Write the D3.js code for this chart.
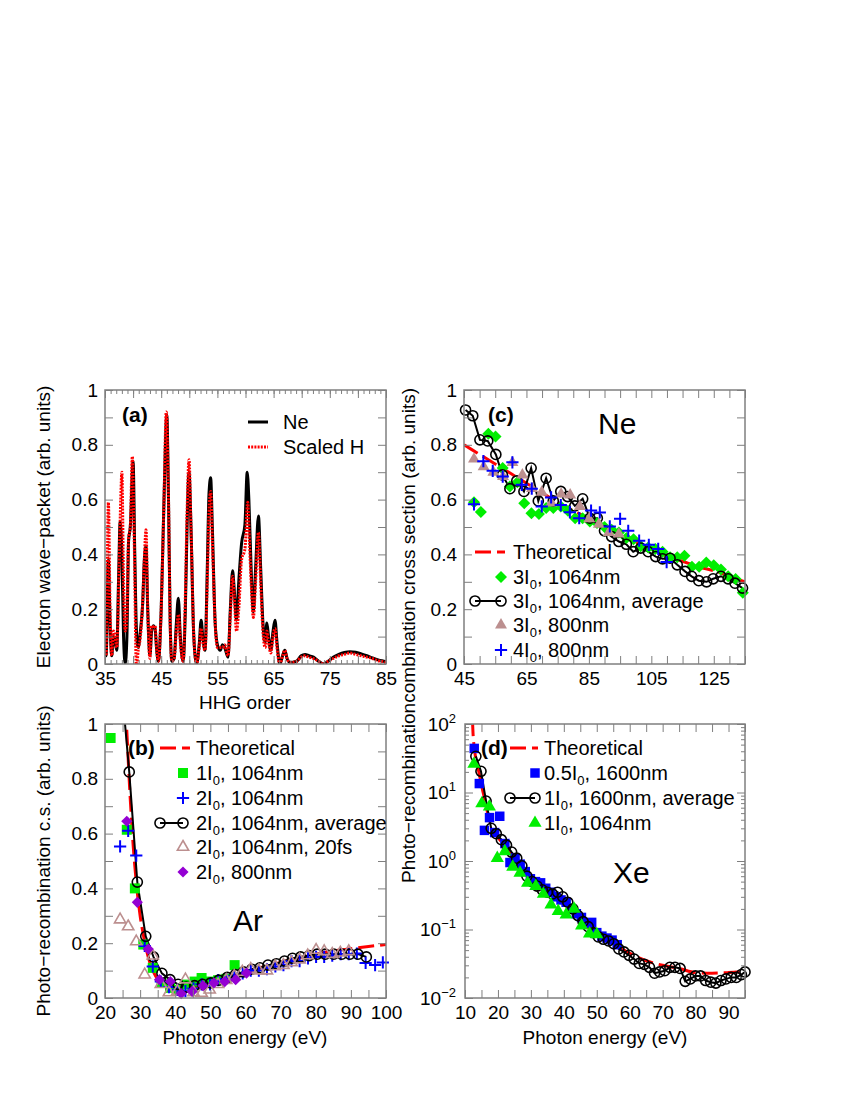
<!DOCTYPE html>
<html>
<head>
<meta charset="utf-8">
<script src="https://cdn.jsdelivr.net/npm/d3@7"></script>
<style>
  body { margin: 0; background: #fff; }
  text { font-family: 'Liberation Sans', Arial, Helvetica, sans-serif; }
</style>
</head>
<body>
<div id="chart"></div>
<script>
// ---------- data ----------
// (a) electron wave-packet vs HHG order
const neWave = [[35.0,0.10],[35.2,0.03],[35.6,0.38],[35.9,0.15],[36.2,0.03],[36.5,0.10],[36.8,0.08],[37.1,0.05],[37.4,0.30],[37.7,0.52],[38.0,0.40],[38.3,0.10],[38.6,0.0],[38.9,0.10],[39.2,0.45],[39.5,0.50],[40.0,0.74],[40.3,0.40],[40.6,0.12],[40.9,0.06],[41.3,0.12],[41.7,0.22],[42.0,0.38],[42.3,0.43],[42.6,0.20],[43.0,0.03],[43.3,0.12],[43.6,0.14],[43.9,0.13],[44.2,0.05],[44.5,0.01],[45.0,0.20],[45.5,0.60],[46.0,0.91],[46.3,0.60],[46.6,0.15],[46.9,0.01],[47.3,0.02],[47.7,0.15],[48.05,0.24],[48.4,0.10],[48.9,0.01],[49.3,0.20],[49.6,0.50],[49.95,0.70],[50.3,0.50],[50.8,0.10],[51.3,0.0],[51.8,0.08],[52.1,0.16],[52.4,0.10],[52.8,0.05],[53.2,0.35],[53.5,0.62],[53.8,0.68],[54.1,0.50],[54.6,0.15],[55.0,0.07],[55.5,0.05],[55.9,0.07],[56.3,0.06],[56.9,0.025],[57.3,0.20],[57.7,0.34],[58.0,0.27],[58.4,0.16],[58.8,0.30],[59.3,0.44],[59.9,0.51],[60.3,0.70],[60.6,0.60],[61.0,0.35],[61.4,0.19],[61.8,0.35],[62.3,0.54],[62.7,0.35],[63.1,0.15],[63.5,0.08],[63.8,0.15],[64.1,0.10],[64.5,0.05],[64.9,0.12],[65.25,0.16],[65.6,0.08],[66.1,0.0],[66.6,0.03],[67.0,0.05],[67.4,0.02],[67.9,0.005],[69.1,0.01],[69.9,0.03],[70.6,0.035],[71.3,0.03],[72.1,0.025],[73.0,0.01],[73.9,0.0],[74.7,0.01],[75.6,0.025],[76.6,0.035],[77.6,0.042],[78.6,0.045],[79.6,0.043],[80.6,0.037],[81.6,0.03],[82.6,0.022],[83.6,0.015],[84.6,0.01],[85.0,0.008]];
const scaledH = [[35.0,0.05],[35.2,0.03],[35.6,0.59],[35.9,0.20],[36.2,0.03],[36.5,0.12],[36.8,0.10],[37.1,0.06],[37.5,0.35],[37.8,0.60],[38.0,0.70],[38.3,0.30],[38.6,0.12],[38.9,0.18],[39.2,0.46],[39.5,0.50],[39.86,0.757],[40.2,0.45],[40.6,-0.02],[40.9,0.05],[41.3,0.10],[41.7,0.22],[42.0,0.38],[42.3,0.49],[42.6,0.20],[43.0,0.02],[43.3,0.14],[43.6,0.13],[43.9,0.14],[44.2,0.05],[44.5,0.01],[45.0,0.20],[45.5,0.60],[45.9,0.92],[46.3,0.60],[46.6,0.15],[46.9,0.01],[47.3,0.02],[47.7,0.12],[48.1,0.18],[48.4,0.08],[48.9,0.01],[49.3,0.25],[49.6,0.55],[49.95,0.745],[50.3,0.50],[50.8,0.10],[51.3,0.0],[51.8,0.07],[52.1,0.13],[52.4,0.08],[52.8,0.05],[53.2,0.30],[53.5,0.55],[53.8,0.63],[54.1,0.45],[54.6,0.15],[55.0,0.06],[55.5,0.06],[55.9,0.06],[56.3,0.07],[56.9,0.03],[57.3,0.18],[57.7,0.32],[58.0,0.25],[58.4,0.12],[58.8,0.20],[59.3,0.38],[59.9,0.42],[60.4,0.59],[60.7,0.45],[61.0,0.30],[61.4,0.17],[61.8,0.30],[62.3,0.48],[62.7,0.30],[63.1,0.12],[63.5,0.06],[63.8,0.12],[64.1,0.08],[64.5,0.04],[64.9,0.10],[65.25,0.13],[65.6,0.06],[66.1,0.0],[66.6,0.03],[67.0,0.05],[67.4,0.02],[67.9,0.005],[69.1,0.01],[69.9,0.025],[70.6,0.03],[71.3,0.025],[72.1,0.02],[73.0,0.01],[73.9,0.0],[74.7,0.01],[75.6,0.02],[76.6,0.03],[77.6,0.035],[78.6,0.04],[79.6,0.035],[80.6,0.03],[81.6,0.025],[82.6,0.02],[83.6,0.012],[84.6,0.008],[85.0,0.005]];

// (c) Ne photo-recombination cross section
const neTheory = [[45,0.80],[50,0.765],[55,0.73],[60,0.695],[65,0.66],[70,0.625],[75,0.59],[80,0.56],[85,0.53],[90,0.50],[95,0.47],[100,0.445],[105,0.42],[110,0.395],[115,0.375],[120,0.355],[125,0.34],[130,0.32],[135,0.30]];
const ne3I1064 = [[48.2,0.59],[50.4,0.555],[52.8,0.84],[55.1,0.83],[57.4,0.715],[59.7,0.648],[62.1,0.663],[64.3,0.587],[66.6,0.55],[69.0,0.547],[71.3,0.569],[73.6,0.569],[76.0,0.575],[78.3,0.559],[80.6,0.532],[83.0,0.532],[85.3,0.52],[87.6,0.515],[90.0,0.50],[92.3,0.49],[94.6,0.48],[97.0,0.46],[99.3,0.455],[101.6,0.43],[104.0,0.425],[106.3,0.42],[108.6,0.41],[111.0,0.39],[113.3,0.39],[115.6,0.395],[118.0,0.355],[120.3,0.355],[122.6,0.37],[125.0,0.36],[127.3,0.345],[129.6,0.32],[132.0,0.31],[134.3,0.26]];
const ne3I1064avg = [[45.5,0.927],[47.8,0.906],[50.1,0.818],[52.6,0.814],[55.2,0.765],[57.3,0.69],[59.7,0.64],[61.9,0.668],[64.2,0.63],[66.5,0.715],[68.8,0.595],[71.3,0.678],[73.6,0.595],[76.0,0.63],[78.2,0.611],[80.5,0.577],[83.0,0.603],[85.3,0.532],[87.7,0.532],[90.0,0.486],[92.3,0.465],[94.6,0.447],[97.0,0.437],[99.2,0.41],[101.6,0.423],[104.0,0.41],[106.4,0.392],[108.6,0.384],[111.0,0.386],[113.3,0.362],[115.8,0.338],[117.9,0.32],[120.2,0.304],[122.7,0.30],[124.8,0.311],[127.3,0.32],[129.6,0.311],[131.8,0.295],[134.2,0.277]];
const ne3I800 = [[48.2,0.748],[51.3,0.72],[54.4,0.70],[57.5,0.684],[60.5,0.735],[63.7,0.69],[66.8,0.64],[69.9,0.627],[73.0,0.587],[76.1,0.62],[79.0,0.617],[82.1,0.575],[85.1,0.53],[88.2,0.51],[91.4,0.48],[94.6,0.474]];
const ne4I800 = [[48.2,0.583],[51.2,0.74],[54.2,0.705],[57.4,0.684],[60.5,0.736],[63.5,0.654],[66.7,0.64],[69.9,0.575],[72.9,0.608],[76.0,0.58],[78.9,0.554],[81.9,0.532],[85.7,0.56],[88.5,0.553],[91.7,0.502],[95.0,0.53],[97.6,0.486],[101.1,0.45],[104.2,0.435],[107.2,0.42],[109.9,0.372]];

// (b) Ar
const arTheory = [[25.6,1.3],[26.0,1.05],[26.5,0.9],[27.0,0.77],[27.5,0.66],[28.0,0.56],[28.5,0.48],[29.0,0.41],[29.5,0.35],[30.0,0.30],[31.0,0.225],[32.0,0.165],[33.0,0.12],[34.0,0.09],[35.0,0.068],[36.0,0.053],[38.0,0.038],[40.0,0.032],[42.0,0.031],[44.0,0.034],[46.0,0.04],[48.0,0.047],[50.0,0.055],[55.0,0.075],[60.0,0.094],[65.0,0.113],[70.0,0.13],[75.0,0.145],[80.0,0.16],[85.0,0.172],[90.0,0.18],[95.0,0.188],[100.0,0.195]];
const ar1I1064 = [[21.6,0.949],[26.2,0.614],[28.5,0.40],[30.9,0.195],[33.6,0.11],[36.1,0.055],[38.5,0.037],[40.9,0.03],[43.1,0.049],[45.5,0.06],[47.5,0.073],[49.9,0.06],[52.2,0.065],[54.5,0.07],[56.9,0.12]];
const ar2I1064 = [[24.3,0.553],[26.6,0.61],[28.9,0.52],[31.3,0.19],[33.6,0.115],[35.9,0.06],[38.2,0.04],[40.6,0.03],[42.9,0.025],[45.2,0.035],[47.5,0.05],[49.9,0.05],[52.2,0.065],[54.5,0.07],[56.8,0.08],[59.2,0.09],[61.5,0.10],[63.8,0.10],[66.1,0.105],[68.5,0.115],[70.8,0.12],[73.1,0.135],[75.4,0.135],[77.8,0.145],[80.1,0.15],[82.4,0.15],[84.7,0.155],[87.1,0.16],[89.4,0.16],[91.7,0.162],[94.2,0.128],[96.9,0.12],[99.1,0.13]];
const ar2I1064avg = [[24.6,1.16],[26.9,0.825],[29.2,0.423],[31.6,0.225],[33.8,0.15],[36.2,0.09],[38.5,0.067],[40.8,0.05],[43.1,0.04],[45.5,0.045],[47.8,0.05],[50.1,0.055],[52.4,0.065],[54.8,0.075],[57.1,0.085],[59.4,0.095],[61.8,0.105],[64.1,0.11],[66.4,0.12],[68.8,0.125],[71.1,0.135],[73.4,0.145],[75.7,0.15],[78.1,0.155],[80.4,0.16],[82.7,0.16],[85.1,0.16],[87.4,0.16],[89.7,0.16],[92.0,0.16],[94.4,0.15]];
const ar2I1064fs20 = [[24.3,0.286],[26.6,0.261],[28.9,0.206],[31.3,0.085],[33.6,0.154],[35.9,0.05],[38.2,0.02],[40.6,0.025],[42.9,0.067],[45.2,0.02],[47.5,0.018],[49.8,0.03],[52.2,0.05],[54.5,0.065],[56.8,0.08],[59.1,0.095],[61.5,0.105],[63.8,0.10],[66.1,0.10],[68.4,0.115],[70.8,0.12],[73.1,0.13],[75.4,0.14],[77.7,0.155],[80.1,0.175],[82.4,0.17],[84.7,0.16],[87.0,0.165],[89.4,0.17]];
const ar2I800 = [[26.2,0.645],[29.2,0.349],[32.3,0.179],[35.5,0.067],[38.6,0.06],[41.7,0.016],[44.8,0.024],[47.9,0.045],[51.0,0.055],[54.1,0.06],[57.2,0.067],[60.3,0.091]];

// (d) Xe (log scale)
const xeTheory = [[12.0,500],[12.2,150],[12.4,80],[12.7,50],[13.0,38],[13.5,28],[14.0,22],[14.5,17],[15.0,13],[15.5,10],[16.0,8],[16.5,6],[17.0,4.8],[17.5,3.8],[18.0,3.1],[19.0,2.5],[20.0,2.2],[22.0,1.65],[24.0,1.25],[26.0,0.95],[28.0,0.68],[30.0,0.53],[32.0,0.44],[34.0,0.37],[36.0,0.32],[38.0,0.28],[40.0,0.24],[42.0,0.195],[44.0,0.155],[46.0,0.125],[48.0,0.10],[50.0,0.085],[55.0,0.062],[60.0,0.045],[65.0,0.035],[70.0,0.03],[75.0,0.027],[80.0,0.0235],[85.0,0.023],[90.0,0.0235],[95.0,0.0245]];
const xe05I1600 = [[12.8,44],[14.35,13.5],[15.9,2.8],[17.45,4.3],[19.0,2.6],[20.55,4.5],[22.1,1.8],[23.65,0.95],[25.2,1.1],[26.75,0.9],[28.3,0.7],[29.85,0.55],[31.4,0.5],[32.95,0.48],[34.5,0.4],[36.05,0.35],[37.6,0.3],[39.15,0.27],[40.7,0.25],[42.25,0.2],[43.8,0.17],[45.35,0.15],[46.9,0.124],[48.45,0.127],[50.0,0.09],[51.55,0.08],[53.1,0.075],[54.65,0.07],[56.2,0.06]];
const xe1I1600avg = [[13.3,33.7],[14.85,20.4],[16.4,7.5],[17.95,3.0],[19.5,2.5],[21.05,2.05],[22.6,1.7],[24.15,1.35],[25.7,1.1],[27.25,0.85],[28.8,0.6],[30.35,0.5],[31.9,0.43],[33.45,0.38],[35.0,0.35],[36.55,0.33],[38.1,0.35],[39.65,0.3],[41.2,0.25],[42.75,0.2],[44.3,0.16],[45.85,0.13],[47.4,0.11],[48.95,0.09],[50.5,0.078],[52.05,0.072],[53.6,0.068],[55.15,0.062],[56.7,0.052],[58.25,0.047],[59.8,0.042],[61.35,0.037],[62.9,0.032],[64.45,0.031],[66.0,0.028],[67.55,0.023],[69.1,0.024],[70.65,0.025],[72.2,0.028],[73.75,0.028],[75.3,0.027],[76.85,0.0175],[78.4,0.019],[79.95,0.021],[81.5,0.021],[83.05,0.018],[84.6,0.017],[86.15,0.0165],[87.7,0.018],[89.25,0.019],[90.8,0.02],[92.35,0.02],[93.9,0.022],[95.0,0.024]];
const xe1I1064 = [[12.7,26],[15.1,6.9],[17.4,6.2],[19.8,1.1],[22.1,1.38],[24.5,0.82],[26.7,0.67],[29.0,0.48],[31.5,0.43],[33.8,0.33],[36.1,0.23],[38.3,0.185],[40.7,0.165],[43.1,0.2],[45.4,0.114],[47.8,0.087],[50.0,0.085]];

// tick labels
const ticksA = [35, 45, 55, 65, 75, 85];
const ticksB = [20, 30, 40, 50, 60, 70, 80, 90, 100];
const ticksC = [45, 65, 85, 105, 125];
const ticksD = [10, 20, 30, 40, 50, 60, 70, 80, 90];
const ticksLin = [0, 0.2, 0.4, 0.6, 0.8, 1];
const ticksLog = [0.01, 0.1, 1, 10, 100];

// ---------- drawing ----------
const width = 850, height = 1100;
const svg = d3.select("#chart").append("svg")
  .attr("width", width).attr("height", height);
svg.append("rect").attr("width", width).attr("height", height).attr("fill", "#fff");

const gray = "#7f7f7f";
const RED = "#ff0000", GREEN = "#00ee00", BLUE = "#0000ff", PURPLE = "#9400d3", BROWN = "#bc8f8f";

const boxes = {
  a: { x0: 105, y0: 390, w: 281, h: 274 },
  c: { x0: 464, y0: 390, w: 281, h: 274 },
  b: { x0: 105, y0: 724, w: 281, h: 274 },
  d: { x0: 465, y0: 724, w: 280, h: 274 }
};

function makePanel(key, xDomain, y) {
  const p = boxes[key];
  const g = svg.append("g").attr("transform", `translate(${p.x0},${p.y0})`);
  const x = d3.scaleLinear().domain(xDomain).range([0, p.w]);
  y.range([p.h, 0]);
  g.append("clipPath").attr("id", "clip-" + key)
    .append("rect").attr("width", p.w).attr("height", p.h);
  const plot = g.append("g").attr("clip-path", `url(#clip-${key})`);
  return { g, plot, x, y, w: p.w, h: p.h };
}

function axis(P, axisFn, transform, scale, vals, len, labels, fmt, pad) {
  const a = P.g.append("g").attr("transform", transform)
    .call(axisFn(scale).tickValues(vals).tickSize(-len).tickSizeOuter(0).tickPadding(pad)
      .tickFormat(d => labels && labels.includes(d) ? fmt(d) : ""));
  a.select(".domain").remove();
  a.selectAll("line").attr("stroke", gray).attr("stroke-width", 1);
  a.selectAll("text").attr("font-size", 19).attr("fill", "#000");
  return a;
}

function frame(P) {
  P.g.append("rect").attr("width", P.w).attr("height", P.h)
    .attr("fill", "none").attr("stroke", gray).attr("stroke-width", 1.5);
}

const linFmt = d => d === 0 ? "0" : d === 1 ? "1" : d.toFixed(1);
const tenths = [0, 0.1, 0.2, 0.3, 0.4, 0.5, 0.6, 0.7, 0.8, 0.9, 1];

function linearYAxes(P) {
  axis(P, d3.axisLeft, "translate(0,0)", P.y, tenths, 8, ticksLin, linFmt, 7);
  axis(P, d3.axisRight, `translate(${P.w},0)`, P.y, tenths, 8, null, linFmt, 7);
}
function xAxes(P, vals, len, labels) {
  axis(P, d3.axisBottom, `translate(0,${P.h})`, P.x, vals, len, labels, d => d, 8);
  axis(P, d3.axisTop, "translate(0,0)", P.x, vals, len, null, d => d, 8);
}

function drawLine(P, data, color, widthPx, dash, curve) {
  P.plot.append("path").datum(data)
    .attr("d", d3.line().x(d => P.x(d[0])).y(d => P.y(d[1])).curve(curve || d3.curveLinear))
    .attr("fill", "none").attr("stroke", color).attr("stroke-width", widthPx)
    .attr("stroke-dasharray", dash || null);
}

const plusType = {
  draw(ctx, size) {
    const r = Math.sqrt(size) / 2;
    ctx.moveTo(-r, 0); ctx.lineTo(r, 0);
    ctx.moveTo(0, -r); ctx.lineTo(0, r);
  }
};
const markers = {
  square: { d: d3.symbol(d3.symbolSquare, 100)(), rot: 0 },
  squareD: { d: d3.symbol(d3.symbolSquare, 90)(), rot: 0 },
  diamond: { d: d3.symbol(d3.symbolSquare, 72)(), rot: 45 },
  diamondS: { d: d3.symbol(d3.symbolSquare, 62)(), rot: 45 },
  plus: { d: d3.symbol(plusType, 150)(), rot: 0 },
  circle: { d: d3.symbol(d3.symbolCircle, 80)(), rot: 0 },
  tri: { d: d3.symbol(d3.symbolTriangle, 62)(), rot: 0 },
  triS: { d: d3.symbol(d3.symbolTriangle, 55)(), rot: 0 },
  triL: { d: d3.symbol(d3.symbolTriangle, 75)(), rot: 0 }
};

function styleMarker(sel, m, color, filled) {
  sel.attr("d", markers[m].d)
    .attr("fill", filled ? color : "none")
    .attr("stroke", filled ? "none" : color)
    .attr("stroke-width", m === "plus" ? 2 : 1.6);
}

function drawMarkers(P, data, m, color, filled) {
  const [xa, xb] = P.x.domain(), [ya, yb] = P.y.domain();
  const inside = data.filter(d => d[0] >= xa && d[0] <= xb && d[1] >= ya && d[1] <= yb);
  P.g.append("g").selectAll("path").data(inside).join("path")
    .attr("transform", d => `translate(${P.x(d[0])},${P.y(d[1])}) rotate(${markers[m].rot})`)
    .call(styleMarker, m, color, filled);
}

function label(text, x, y, size, opts) {
  opts = opts || {};
  const t = (opts.parent || svg).append("text").attr("x", x).attr("y", y).attr("font-size", size)
    .attr("fill", "#000").attr("font-weight", opts.bold ? "bold" : null)
    .attr("text-anchor", opts.anchor || "start");
  if (opts.rotate) t.attr("transform", `rotate(-90,${x},${y})`);
  const parts = text.split("_0");
  t.append("tspan").text(parts[0]);
  if (parts.length > 1) {
    t.append("tspan").attr("dy", 5).attr("font-size", size * 0.65).text("0");
    t.append("tspan").attr("dy", -5).text(parts[1]);
  }
  return t;
}

// legend: entries {text, kind: 'line'|'marker'|'linepoints', ...}
function legend(entries, rowY, lineX0, lineX1, markerX, textX) {
  entries.forEach((e, i) => {
    const cy = rowY[i];
    if (e.kind === "line") {
      svg.append("line").attr("x1", lineX0).attr("x2", lineX1).attr("y1", cy).attr("y2", cy)
        .attr("stroke", e.color).attr("stroke-width", e.width || 3)
        .attr("stroke-dasharray", e.dash || null);
    } else if (e.kind === "linepoints") {
      svg.append("line").attr("x1", lineX0).attr("x2", markerX).attr("y1", cy).attr("y2", cy)
        .attr("stroke", "#000").attr("stroke-width", 2);
      [lineX0, markerX].forEach(mx => svg.append("path")
        .attr("transform", `translate(${mx},${cy})`).call(styleMarker, "circle", "#000", false));
    } else {
      svg.append("path").attr("transform", `translate(${markerX},${cy}) rotate(${markers[e.m].rot})`)
        .call(styleMarker, e.m, e.color, e.filled);
    }
    label(e.text, textX, cy + 7, 20);
  });
}

// ----- panel (a) -----
const A = makePanel("a", [35, 85], d3.scaleLinear().domain([0, 1]));
drawLine(A, neWave, "#000", 3, null, d3.curveMonotoneX);
drawLine(A, scaledH, RED, 3, "2,1.2", d3.curveMonotoneX);
axis(A, d3.axisBottom, `translate(0,${A.h})`, A.x, d3.range(35, 86), 4, null, d => d, 8);
axis(A, d3.axisTop, "translate(0,0)", A.x, d3.range(35, 86), 4, null, d => d, 8);
xAxes(A, d3.range(35, 86, 5), 8, ticksA);
linearYAxes(A);
frame(A);

// ----- panel (c) -----
const C = makePanel("c", [45, 135], d3.scaleLinear().domain([0, 1]));
drawLine(C, neTheory, RED, 3, "16,6", d3.curveMonotoneX);
drawMarkers(C, ne3I1064, "diamond", GREEN, true);
drawLine(C, ne3I1064avg, "#000", 2);
drawMarkers(C, ne3I1064avg, "circle", "#000", false);
drawMarkers(C, ne3I800, "tri", BROWN, true);
drawMarkers(C, ne4I800, "plus", BLUE, false);
xAxes(C, d3.range(45, 136, 5), 8, ticksC);
linearYAxes(C);
frame(C);

// ----- panel (b) -----
const B = makePanel("b", [20, 100], d3.scaleLinear().domain([0, 1]));
drawLine(B, arTheory, RED, 3, "16,6", d3.curveMonotoneX);
drawMarkers(B, ar1I1064, "square", GREEN, true);
drawMarkers(B, ar2I1064, "plus", BLUE, false);
drawLine(B, ar2I1064avg, "#000", 2);
drawMarkers(B, ar2I1064avg, "circle", "#000", false);
drawMarkers(B, ar2I1064fs20, "triS", BROWN, false);
drawMarkers(B, ar2I800, "diamondS", PURPLE, true);
xAxes(B, d3.range(20, 101, 5), 8, ticksB);
linearYAxes(B);
frame(B);

// ----- panel (d) -----
const D = makePanel("d", [10, 95], d3.scaleLog().domain([0.01, 100]));
drawLine(D, xeTheory, RED, 3, "16,6", d3.curveMonotoneX);
drawMarkers(D, xe05I1600, "squareD", BLUE, true);
drawLine(D, xe1I1600avg, "#000", 2);
drawMarkers(D, xe1I1600avg, "circle", "#000", false);
drawMarkers(D, xe1I1064, "triL", GREEN, true);
xAxes(D, d3.range(10, 96, 5), 8, ticksD);
const logMinor = [];
[0.01, 0.1, 1, 10].forEach(k => d3.range(2, 10).forEach(m => logMinor.push(k * m)));
axis(D, d3.axisLeft, "translate(0,0)", D.y, logMinor, 4, null, d => d, 7);
axis(D, d3.axisRight, `translate(${D.w},0)`, D.y, logMinor, 4, null, d => d, 7);
const logAxis = axis(D, d3.axisLeft, "translate(0,0)", D.y, ticksLog, 8, ticksLog, d => d, 9);
axis(D, d3.axisRight, `translate(${D.w},0)`, D.y, ticksLog, 8, null, d => d, 9);
logAxis.selectAll(".tick text").text(null).each(function (d) {
  const e = Math.round(Math.log10(d));
  const t = d3.select(this);
  t.append("tspan").text("10");
  t.append("tspan").attr("dy", -8).attr("font-size", 13).text(e < 0 ? "\u2212" + (-e) : e);
});
frame(D);

// ----- panel labels and titles -----
label("(a)", 122, 422, 21, { bold: true });
label("(c)", 488, 422, 21, { bold: true });
label("(b)", 128, 755, 21, { bold: true });
label("(d)", 481, 755, 21, { bold: true });
label("Ne", 598, 434, 30);
label("Ar", 233, 931, 30);
label("Xe", 613, 883, 30);

label("Electron wave\u2212packet (arb. units)", 50, 527, 19, { rotate: true, anchor: "middle" });
label("HHG order", 245, 709, 19, { anchor: "middle" });
label("Photo\u2212recombination c.s. (arb. units)", 50, 861, 19, { rotate: true, anchor: "middle" });
label("Photon energy (eV)", 245, 1044, 19, { anchor: "middle" });
label("Photon energy (eV)", 605, 1044, 19, { anchor: "middle" });

// the right-hand y titles are cut where the two panel images meet
const clipTop = svg.append("clipPath").attr("id", "clip-ytitle-c");
clipTop.append("rect").attr("x", 390).attr("y", 370).attr("width", 40).attr("height", 332);
const clipBot = svg.append("clipPath").attr("id", "clip-ytitle-d");
clipBot.append("rect").attr("x", 390).attr("y", 702).attr("width", 40).attr("height", 340);
const gTitleC = svg.append("g").attr("clip-path", "url(#clip-ytitle-c)");
const gTitleD = svg.append("g").attr("clip-path", "url(#clip-ytitle-d)");
label("Photo\u2212recombination cross section (arb. units)", 415, 388, 19, { rotate: true, anchor: "end", parent: gTitleC });
label("Photo\u2212recombination cross section (arb. units)", 415, 883, 19, { rotate: true, anchor: "start", parent: gTitleD });

// ----- legends -----
legend([
  { text: "Ne", kind: "line", color: "#000", width: 3 },
  { text: "Scaled H", kind: "line", color: RED, width: 3, dash: "2,1.2" }
], [422, 447], 248, 268, 0, 283);

legend([
  { text: "Theoretical", kind: "line", color: RED, dash: "16,6" },
  { text: "3I_0, 1064nm", kind: "marker", m: "diamond", color: GREEN, filled: true },
  { text: "3I_0, 1064nm, average", kind: "linepoints" },
  { text: "3I_0, 800nm", kind: "marker", m: "tri", color: BROWN, filled: true },
  { text: "4I_0, 800nm", kind: "marker", m: "plus", color: BLUE, filled: false }
], [552, 577, 601, 625, 650], 475, 505, 501, 513);

legend([
  { text: "Theoretical", kind: "line", color: RED, dash: "16,6" },
  { text: "1I_0, 1064nm", kind: "marker", m: "square", color: GREEN, filled: true },
  { text: "2I_0, 1064nm", kind: "marker", m: "plus", color: BLUE, filled: false },
  { text: "2I_0, 1064nm, average", kind: "linepoints" },
  { text: "2I_0, 1064nm, 20fs", kind: "marker", m: "triS", color: BROWN, filled: false },
  { text: "2I_0, 800nm", kind: "marker", m: "diamondS", color: PURPLE, filled: true }
], [748, 773, 798, 823, 847, 872], 160, 190, 183, 196);

legend([
  { text: "Theoretical", kind: "line", color: RED, dash: "16,6" },
  { text: "0.5I_0, 1600nm", kind: "marker", m: "squareD", color: BLUE, filled: true },
  { text: "1I_0, 1600nm, average", kind: "linepoints" },
  { text: "1I_0, 1064nm", kind: "marker", m: "triL", color: GREEN, filled: true }
], [748, 773, 798, 823], 510, 538, 535, 544);
</script>
</body>
</html>
